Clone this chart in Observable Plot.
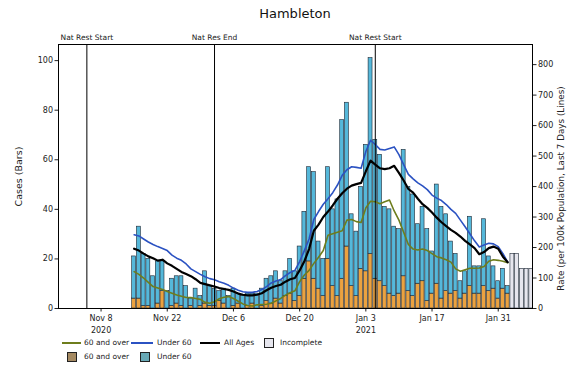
<!DOCTYPE html>
<html><head><meta charset="utf-8">
<script src="https://cdn.jsdelivr.net/npm/d3@7"></script>
<script src="https://cdn.jsdelivr.net/npm/@observablehq/plot@0.6"></script>
<style>
body{margin:0;background:#fff;font-family:"DejaVu Sans",sans-serif;}
#wrap{position:relative;width:568px;height:365px;overflow:hidden;background:#fff;}
#title{position:absolute;left:0;top:0;width:590px;height:26px;line-height:28px;text-align:center;font-size:13px;color:#111;}
#chart{position:absolute;left:0;top:26px;}
#chart svg{overflow:visible;}
.lg{position:absolute;font-size:7.5px;color:#222;white-space:nowrap;line-height:10px;}
.ln{position:absolute;height:1.6px;}
.bx{position:absolute;width:8px;height:8px;border:1px solid #222;}
</style></head><body>
<div id="wrap">
<div id="title">Hambleton</div>
<div id="chart"></div>
<div id="legend"></div>
</div>
<script>
// ---- data ----
const firstDay = "2020-11-15";
const lastCompleteDay = "2021-02-02";
const totalCases = [
 21,33,22,20,13,19,19,7,12,13,13,9,4,8,5,15,
 9,8,7,8,5,8,6,5,6,6,6,8,12,13,15,11,15,20,15,25,39,57,55,27,20,57,40,44,76,83,38,
 31,49,66,101,68,62,41,40,33,32,64,49,46,34,41,32,23,50,41,38,27,22,11,15,37,17,17,36,21,17,11,
 16,9];
const over60Cases = [
 4,4,1,1,0,2,7,0,1,2,1,0,1,0,1,2,
 1,1,3,2,0,1,2,0,1,2,0,1,3,2,4,2,5,6,3,5,12,19,12,8,5,20,9,5,12,25,9,
 5,16,15,22,12,11,9,6,5,6,13,7,5,10,11,3,6,10,4,7,6,7,4,6,9,6,6,9,7,8,4,
 8,6];
const incompleteDays = ["2021-02-03","2021-02-04","2021-02-05","2021-02-06","2021-02-07"];
const incompleteCases = [22,22,16,16,16];
const rateAllAges = [
 196,190,180,171,165,157,160,148,140,130,120,113,106,96,84,80,
 76,72,67,64,61,56,49,45,43,43,45,50,60,68,74,78,88,96,100,125,155,195,255,275,300,318,338,360,378,393,403,
 408,412,450,485,472,460,457,460,468,445,420,392,380,360,342,330,315,298,283,270,258,248,236,222,210,198,178,185,198,203,196,
 170,152];
const rateUnder60 = [
 242,238,228,218,210,203,197,190,175,165,158,146,130,121,112,104,
 98,94,88,83,76,67,60,55,53,53,56,62,72,84,90,95,108,118,125,154,190,228,292,318,342,360,380,405,437,455,465,
 463,460,515,552,538,522,520,525,530,505,472,440,425,412,402,390,372,362,354,341,325,312,290,268,245,222,202,208,214,212,203,
 180,152];
const rateOver60 = [
 121,112,100,86,72,67,62,56,50,44,40,36,36,33,30,20,
 17,22,32,37,39,33,24,15,10,8,12,13,14,17,25,33,44,52,58,88,110,125,148,168,190,240,245,250,255,290,292,
 285,282,330,352,350,344,350,356,320,290,250,210,195,192,195,190,180,170,166,160,152,130,122,127,132,132,133,138,155,160,158,
 155,150];
const eventDates = ["2020-11-05","2020-12-02","2021-01-05"];
const eventLabels = ["Nat Rest Start","Nat Res End","Nat Rest Start"];
const leftTicks = [0,20,40,60,80,100];
const rightTicks = [0,100,200,300,400,500,600,700,800];
const xTickDates = ["2020-11-08","2020-11-22","2020-12-06","2020-12-20","2021-01-03","2021-01-17","2021-01-31"];
const xTickLabels = ["Nov 8","Nov 22","Dec 6","Dec 20","Jan 3","Jan 17","Jan 31"];
const yearDates = ["2020-11-08","2021-01-03"];
const yearLabels = ["2020","2021"];
const xDomain = ["2020-10-30T00:00Z","2021-02-07T06:00Z"];
const leftMax = 106.5, rightMax = 866;

// ---- build tables ----
const P = s => new Date(s.length <= 10 ? s + "T00:00Z" : s);
const days = d3.utcDay.range(P(firstDay), d3.utcDay.offset(P(lastCompleteDay), 1));
const K = rightMax / leftMax;
const half = d => [d3.utcHour.offset(d, -10), d3.utcHour.offset(d, 10)];
const bars = days.map((d, i) => ({date: d, x1: half(d)[0], x2: half(d)[1], over: over60Cases[i], total: totalCases[i]}));
const inc = incompleteDays.map((s, i) => { const d = P(s); return {date: d, x1: half(d)[0], x2: half(d)[1], total: incompleteCases[i]}; });
const lines = days.map((d, i) => ({date: d, all: rateAllAges[i], u60: rateUnder60[i], o60: rateOver60[i]}));
const events = eventDates.map((s, i) => ({date: P(s), label: eventLabels[i]}));
const years = yearDates.map((s, i) => ({date: P(s), label: yearLabels[i]}));
const tickMap = new Map(xTickDates.map((s, i) => [+P(s), xTickLabels[i]]));

const ORANGE = "#eba240", BLUE = "#55b8da", EDGE = "#1c2633";
const LBLUE = "#2b52c2", OLIVE = "#6e7d1c";

const chart = Plot.plot({
  width: 568, height: 310,
  marginLeft: 58, marginRight: 36, marginTop: 18, marginBottom: 28,
  style: {fontFamily: "DejaVu Sans", fontSize: "8px", color: "#222", background: "white", overflow: "visible"},
  x: {type: "utc", domain: xDomain.map(P)},
  y: {domain: [0, leftMax]},
  marks: [
    Plot.rectY(bars, {x1: "x1", x2: "x2", y1: 0, y2: "over", fill: ORANGE, stroke: EDGE, strokeWidth: 0.6}),
    Plot.rectY(bars, {x1: "x1", x2: "x2", y1: "over", y2: "total", fill: BLUE, stroke: EDGE, strokeWidth: 0.6}),
    Plot.rectY(inc, {x1: "x1", x2: "x2", y1: 0, y2: "total", fill: "#e6e6ee", stroke: EDGE, strokeWidth: 0.6, clip: true}),
    Plot.lineY(lines, {x: "date", y: d => d.o60 / K, stroke: OLIVE, strokeWidth: 1.6}),
    Plot.lineY(lines, {x: "date", y: d => d.u60 / K, stroke: LBLUE, strokeWidth: 1.6}),
    Plot.lineY(lines, {x: "date", y: d => d.all / K, stroke: "#000", strokeWidth: 2.2}),
    Plot.ruleX(events, {x: "date", stroke: "#000", strokeWidth: 1}),
    Plot.text(events, {x: "date", text: "label", frameAnchor: "top", dy: -10, fontSize: 7.5, fill: "#222"}),
    Plot.axisY(leftTicks, {anchor: "left", tickSize: 3.5, tickPadding: 2, label: null, fontSize: 8}),
    Plot.axisY(rightTicks.map(v => v / K), {anchor: "right", tickSize: 3.5, tickPadding: 2, label: null, fontSize: 8, tickFormat: d => String(Math.round(d * K))}),
    Plot.axisX(xTickDates.map(P), {anchor: "bottom", tickSize: 3.5, tickPadding: 3, label: null, fontSize: 8, tickFormat: d => tickMap.get(+d)}),
    Plot.text(years, {x: "date", text: "label", frameAnchor: "bottom", dy: 24, fontSize: 8, fill: "#222"}),
    Plot.text(["Cases (Bars)"], {frameAnchor: "left", textAnchor: "middle", dx: -40, rotate: -90, fontSize: 9.5, fill: "#222"}),
    Plot.text(["Rate (per 100k Population, Last 7 Days (Lines)"], {frameAnchor: "right", textAnchor: "middle", dx: 29, dy: 12, rotate: -90, fontSize: 8.8, fill: "#222"}),
    Plot.frame({stroke: "#000", strokeWidth: 1})
  ]
});
document.getElementById("chart").appendChild(chart);

// ---- legend ----
const legendItems = [
  {kind: "line", color: OLIVE, w: 1.6, label: "60 and over", hx: 62, hw: 19, tx: 84, row: 0},
  {kind: "line", color: LBLUE, w: 1.6, label: "Under 60", hx: 131, hw: 22, tx: 157, row: 0},
  {kind: "line", color: "#000", w: 2.4, label: "All Ages", hx: 200, hw: 20, tx: 224, row: 0},
  {kind: "box", color: "#e6e6ee", label: "Incomplete", hx: 264, tx: 280, row: 0},
  {kind: "box", color: "#a58a62", label: "60 and over", hx: 67, tx: 84, row: 1},
  {kind: "box", color: "#68a9b6", label: "Under 60", hx: 140, tx: 157, row: 1}
];
const lg = document.getElementById("legend");
const rowY = [343, 357];
for (const it of legendItems) {
  const cy = rowY[it.row];
  const h = document.createElement("div");
  if (it.kind === "line") {
    h.className = "ln";
    h.style.left = it.hx + "px"; h.style.width = it.hw + "px";
    h.style.top = (cy - it.w / 2) + "px"; h.style.height = it.w + "px";
    h.style.background = it.color;
  } else {
    h.className = "bx";
    h.style.left = it.hx + "px"; h.style.top = (cy - 5) + "px";
    h.style.background = it.color;
  }
  lg.appendChild(h);
  const t = document.createElement("div");
  t.className = "lg";
  t.textContent = it.label;
  t.style.left = it.tx + "px"; t.style.top = (cy - 5) + "px";
  lg.appendChild(t);
}
</script>
</body></html>
